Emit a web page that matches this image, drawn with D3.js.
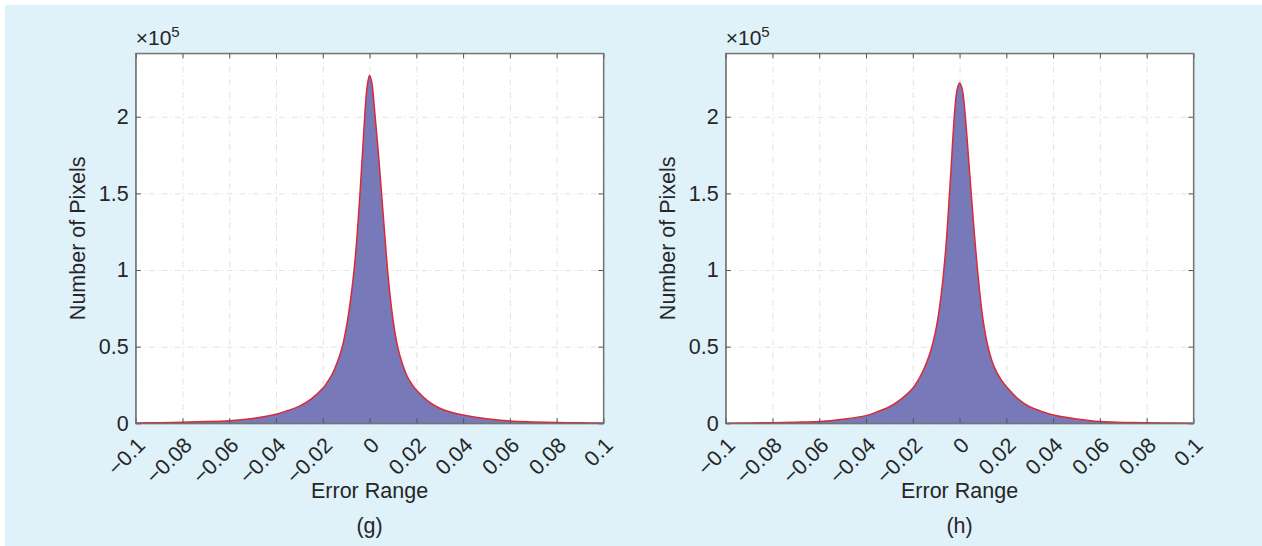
<!DOCTYPE html>
<html>
<head>
<meta charset="utf-8">
<script src="https://cdn.jsdelivr.net/npm/d3@7"></script>
<style>
  body { margin: 0; background: #fff; }
  text { font-family: 'Liberation Sans', Arial, sans-serif; fill: #262626; }
</style>
</head>
<body>
<div id="chart"></div>
<script>
// error bins (x) and pixel counts (x 10^5)
const errG = [-0.1, -0.09, -0.08, -0.07, -0.06, -0.05, -0.04, -0.035, -0.03, -0.025, -0.02, -0.018, -0.016, -0.014, -0.012, -0.01, -0.008, -0.006, -0.004, -0.002, -0.001, 0,
  0.001, 0.002, 0.004, 0.006, 0.008, 0.01, 0.012, 0.014, 0.016, 0.018, 0.02, 0.025, 0.03, 0.035, 0.04, 0.05, 0.06, 0.07, 0.08, 0.09, 0.1]
const countG = [0.002, 0.004, 0.007, 0.011, 0.017, 0.032, 0.059, 0.083, 0.112, 0.158, 0.228, 0.27, 0.32, 0.39, 0.48, 0.62, 0.82, 1.1, 1.52, 2.02, 2.2, 2.27,
  2.22, 2.07, 1.72, 1.33, 0.95, 0.68, 0.5, 0.39, 0.31, 0.257, 0.217, 0.145, 0.098, 0.072, 0.054, 0.03, 0.015, 0.009, 0.005, 0.003, 0.002]

const errH = errG
const countH = [0.001, 0.002, 0.004, 0.007, 0.011, 0.026, 0.05, 0.076, 0.108, 0.158, 0.228, 0.274, 0.33, 0.40, 0.49, 0.62, 0.82, 1.12, 1.57, 2.05, 2.18, 2.22,
  2.19, 2.08, 1.7, 1.3, 0.95, 0.68, 0.51, 0.40, 0.33, 0.28, 0.24, 0.16, 0.108, 0.078, 0.054, 0.028, 0.011, 0.006, 0.003, 0.002, 0.001]

const xTicks = [-0.1, -0.08, -0.06, -0.04, -0.02, 0, 0.02, 0.04, 0.06, 0.08, 0.1]
const yTicks = [0, 0.5, 1, 1.5, 2]
const panels = ['(g)', '(h)']

const W = 1262
const H = 546
const plotW = 467.7
const plotH = 370
const plotTop = 53.3
const plotLefts = [135.7, 725.7]

const svg = d3.select('#chart')
  .append('svg')
  .attr('width', W)
  .attr('height', H)

svg.append('rect')
  .attr('x', 5)
  .attr('y', 5)
  .attr('width', W - 5)
  .attr('height', H - 5)
  .attr('fill', '#dff1f9')

const x = d3.scaleLinear().domain([-0.1, 0.1]).range([0, plotW])
const y = d3.scaleLinear().domain([0, 2.414]).range([plotH, 0])

function fmtX (d) {
  if (d === 0) return '0'
  return (d < 0 ? '\u2212' : '') + String(Math.abs(+d.toFixed(2)))
}
const fmtY = d3.format('~g')

function drawPanel (left, xs, ys, label) {
  const data = xs.map((d, i) => ({ e: d, n: ys[i] }))
  const g = svg.append('g')
    .attr('transform', 'translate(' + left + ',' + plotTop + ')')

  g.append('rect')
    .attr('width', plotW)
    .attr('height', plotH)
    .attr('fill', 'white')

  // grid
  g.append('g')
    .attr('class', 'grid')
    .attr('transform', 'translate(0,' + plotH + ')')
    .call(d3.axisBottom(x).tickValues(xTicks).tickSize(-plotH).tickFormat(''))
  g.append('g')
    .attr('class', 'grid')
    .call(d3.axisLeft(y).tickValues(yTicks).tickSize(-plotW).tickFormat(''))
  g.selectAll('.grid .domain').remove()
  g.selectAll('.grid line')
    .attr('stroke', '#dadada')
    .attr('stroke-width', 0.8)
    .attr('stroke-dasharray', '6,3,1,3')

  const curve = d3.curveCatmullRom.alpha(0.5)

  const area = d3.area()
    .x(d => x(d.e))
    .y0(plotH)
    .y1(d => y(d.n))
    .curve(curve)

  const line = d3.line()
    .x(d => x(d.e))
    .y(d => y(d.n))
    .curve(curve)

  g.append('path')
    .datum(data)
    .attr('d', area)
    .attr('fill', '#7779b9')

  g.append('path')
    .datum(data)
    .attr('d', line)
    .attr('fill', 'none')
    .attr('stroke', '#dc2a35')
    .attr('stroke-width', 1.5)

  // axes (box with inward ticks)
  const xAxis = g.append('g')
    .attr('transform', 'translate(0,' + plotH + ')')
    .call(d3.axisBottom(x).tickValues(xTicks).tickSizeInner(-5).tickSizeOuter(0).tickFormat(fmtX))
  xAxis.selectAll('text')
    .attr('y', null)
    .attr('x', null)
    .attr('dy', '0.35em')
    .attr('text-anchor', 'end')
    .attr('transform', 'translate(5,18) rotate(-45)')
    .style('font-size', '21.5px')

  const yAxis = g.append('g')
    .call(d3.axisLeft(y).tickValues(yTicks).tickSizeInner(-5).tickSizeOuter(0).tickPadding(7).tickFormat(fmtY))
  yAxis.selectAll('text').style('font-size', '21.5px')

  g.append('g')
    .call(d3.axisTop(x).tickValues(xTicks).tickSizeInner(-5).tickSizeOuter(0).tickFormat(''))
  g.append('g')
    .attr('transform', 'translate(' + plotW + ',0)')
    .call(d3.axisRight(y).tickValues(yTicks).tickSizeInner(-5).tickSizeOuter(0).tickFormat(''))

  g.selectAll('.domain').attr('stroke', '#6e6e6e')
  g.selectAll('.tick line').filter(function () { return !this.closest('.grid') })
    .attr('stroke', '#555')

  g.append('rect')
    .attr('width', plotW)
    .attr('height', plotH)
    .attr('fill', 'none')
    .attr('stroke', '#6e6e6e')
    .attr('stroke-width', 1)

  const mult = g.append('text')
    .attr('x', 0)
    .attr('y', -8)
    .style('font-size', '21px')
  mult.append('tspan').text('\u00d710')
  mult.append('tspan')
    .attr('dy', -8)
    .style('font-size', '15px')
    .text('5')

  g.append('text')
    .attr('transform', 'translate(-51,' + (plotH / 2) + ') rotate(-90)')
    .attr('text-anchor', 'middle')
    .style('font-size', '21.5px')
    .text('Number of Pixels')

  g.append('text')
    .attr('x', plotW / 2)
    .attr('y', plotH + 74.4)
    .attr('text-anchor', 'middle')
    .style('font-size', '21.5px')
    .text('Error Range')

  g.append('text')
    .attr('x', plotW / 2)
    .attr('y', plotH + 110)
    .attr('text-anchor', 'middle')
    .style('font-size', '21.5px')
    .text(label)
}

drawPanel(plotLefts[0], errG, countG, panels[0])
drawPanel(plotLefts[1], errH, countH, panels[1])
</script>
</body>
</html>
